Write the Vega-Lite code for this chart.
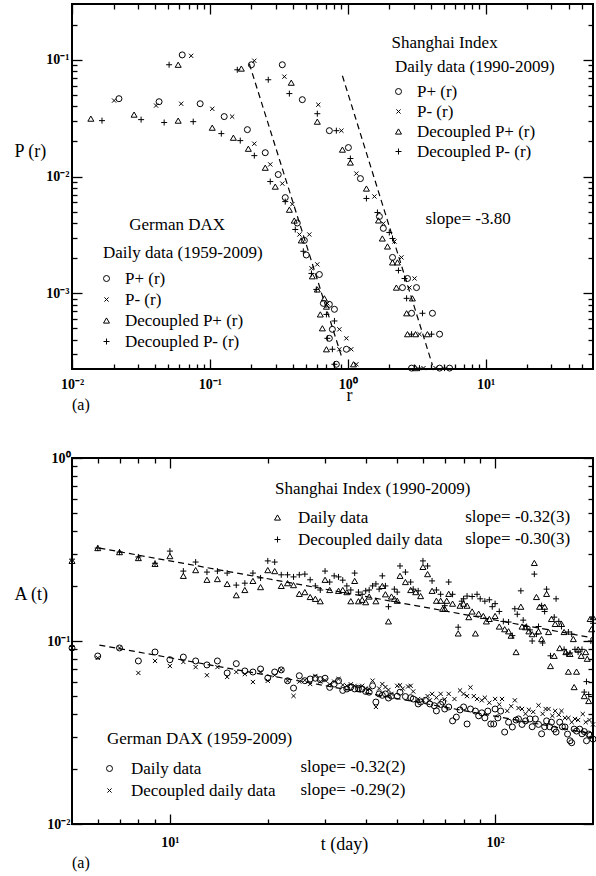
{
"$schema": "https://vega.github.io/schema/vega-lite/v6.json",
"padding": {"left": 13, "top": 2, "right": 0, "bottom": 0},
"background": "white",
"spacing": 36,
"datasets": {
"daxP": [
{"r":0.0219,"P":0.0464,"series":"P+ (r)"},{"r":0.0428,"P":0.0437,"series":"P+ (r)"},{"r":0.085,"P":0.042,"series":"P+ (r)"},{"r":0.127,"P":0.0326,"series":"P+ (r)"},{"r":0.187,"P":0.0252,"series":"P+ (r)"},{"r":0.252,"P":0.016,"series":"P+ (r)"},{"r":0.313,"P":0.0104,"series":"P+ (r)"},{"r":0.352,"P":0.0066,"series":"P+ (r)"},{"r":0.43,"P":0.004,"series":"P+ (r)"},{"r":0.484,"P":0.00284,"series":"P+ (r)"},{"r":0.5,"P":0.00213,"series":"P+ (r)"},{"r":0.622,"P":0.00145,"series":"P+ (r)"},{"r":0.665,"P":0.00082,"series":"P+ (r)"},{"r":0.735,"P":0.000805,"series":"P+ (r)"},{"r":0.8,"P":0.00073,"series":"P+ (r)"},{"r":0.773,"P":0.000492,"series":"P+ (r)"},{"r":0.735,"P":0.000412,"series":"P+ (r)"},{"r":0.977,"P":0.000332,"series":"P+ (r)"},{"r":0.826,"P":0.000247,"series":"P+ (r)"},
{"r":0.0202,"P":0.0447,"series":"P- (r)"},{"r":0.0407,"P":0.0405,"series":"P- (r)"},{"r":0.0619,"P":0.042,"series":"P- (r)"},{"r":0.104,"P":0.038,"series":"P- (r)"},{"r":0.145,"P":0.0326,"series":"P- (r)"},{"r":0.21,"P":0.0191,"series":"P- (r)"},{"r":0.274,"P":0.0127,"series":"P- (r)"},{"r":0.335,"P":0.0087,"series":"P- (r)"},{"r":0.396,"P":0.0058,"series":"P- (r)"},{"r":0.446,"P":0.00319,"series":"P- (r)"},{"r":0.526,"P":0.00319,"series":"P- (r)"},{"r":0.601,"P":0.00177,"series":"P- (r)"},{"r":0.545,"P":0.00164,"series":"P- (r)"},{"r":0.711,"P":0.00082,"series":"P- (r)"},{"r":0.869,"P":0.000492,"series":"P- (r)"},{"r":0.977,"P":0.000412,"series":"P- (r)"},{"r":0.869,"P":0.000332,"series":"P- (r)"},{"r":1.06,"P":0.000332,"series":"P- (r)"},{"r":1.154,"P":0.000247,"series":"P- (r)"},
{"r":0.0137,"P":0.0313,"series":"Decoupled P+ (r)"},{"r":0.0282,"P":0.0339,"series":"Decoupled P+ (r)"},{"r":0.0589,"P":0.0301,"series":"Decoupled P+ (r)"},{"r":0.104,"P":0.0262,"series":"Decoupled P+ (r)"},{"r":0.148,"P":0.0215,"series":"Decoupled P+ (r)"},{"r":0.19,"P":0.0173,"series":"Decoupled P+ (r)"},{"r":0.252,"P":0.0119,"series":"Decoupled P+ (r)"},{"r":0.298,"P":0.0082,"series":"Decoupled P+ (r)"},{"r":0.377,"P":0.0052,"series":"Decoupled P+ (r)"},{"r":0.409,"P":0.0042,"series":"Decoupled P+ (r)"},{"r":0.46,"P":0.00284,"series":"Decoupled P+ (r)"},{"r":0.553,"P":0.0014,"series":"Decoupled P+ (r)"},{"r":0.601,"P":0.00108,"series":"Decoupled P+ (r)"},{"r":0.676,"P":0.000906,"series":"Decoupled P+ (r)"},{"r":0.7,"P":0.00077,"series":"Decoupled P+ (r)"},{"r":0.632,"P":0.00066,"series":"Decoupled P+ (r)"},{"r":0.654,"P":0.000502,"series":"Decoupled P+ (r)"},{"r":0.7,"P":0.000332,"series":"Decoupled P+ (r)"},{"r":1.1,"P":0.000247,"series":"Decoupled P+ (r)"},
{"r":0.0165,"P":0.0301,"series":"Decoupled P- (r)"},{"r":0.0317,"P":0.0307,"series":"Decoupled P- (r)"},{"r":0.0466,"P":0.029,"series":"Decoupled P- (r)"},{"r":0.0757,"P":0.0295,"series":"Decoupled P- (r)"},{"r":0.121,"P":0.0233,"series":"Decoupled P- (r)"},{"r":0.166,"P":0.0203,"series":"Decoupled P- (r)"},{"r":0.21,"P":0.0151,"series":"Decoupled P- (r)"},{"r":0.274,"P":0.00906,"series":"Decoupled P- (r)"},{"r":0.352,"P":0.0061,"series":"Decoupled P- (r)"},{"r":0.416,"P":0.00352,"series":"Decoupled P- (r)"},{"r":0.476,"P":0.00229,"series":"Decoupled P- (r)"},{"r":0.545,"P":0.00148,"series":"Decoupled P- (r)"},{"r":0.591,"P":0.00108,"series":"Decoupled P- (r)"},{"r":0.7,"P":0.00066,"series":"Decoupled P- (r)"},{"r":0.8,"P":0.00058,"series":"Decoupled P- (r)"},{"r":0.711,"P":0.000412,"series":"Decoupled P- (r)"},{"r":0.773,"P":0.000332,"series":"Decoupled P- (r)"},{"r":0.8,"P":0.000247,"series":"Decoupled P- (r)"}
],
"shP": [
{"r":0.063,"P":0.11,"series":"P+ (r)"},{"r":0.2,"P":0.0906,"series":"P+ (r)"},{"r":0.335,"P":0.0906,"series":"P+ (r)"},{"r":0.468,"P":0.0455,"series":"P+ (r)"},{"r":0.735,"P":0.0247,"series":"P+ (r)"},{"r":1.01,"P":0.0177,"series":"P+ (r)"},{"r":1.235,"P":0.0096,"series":"P+ (r)"},{"r":1.695,"P":0.00455,"series":"P+ (r)"},{"r":1.81,"P":0.0036,"series":"P+ (r)"},{"r":2.11,"P":0.00203,"series":"P+ (r)"},{"r":2.71,"P":0.00134,"series":"P+ (r)"},{"r":2.49,"P":0.00112,"series":"P+ (r)"},{"r":3.15,"P":0.00112,"series":"P+ (r)"},{"r":2.9,"P":0.000675,"series":"P+ (r)"},{"r":4.11,"P":0.000675,"series":"P+ (r)"},{"r":4.63,"P":0.000447,"series":"P+ (r)"},{"r":2.9,"P":0.000229,"series":"P+ (r)"},{"r":4.63,"P":0.000229,"series":"P+ (r)"},{"r":5.47,"P":0.000229,"series":"P+ (r)"},
{"r":0.0731,"P":0.108,"series":"P- (r)"},{"r":0.21,"P":0.098,"series":"P- (r)"},{"r":0.347,"P":0.0716,"series":"P- (r)"},{"r":0.611,"P":0.0412,"series":"P- (r)"},{"r":0.899,"P":0.0247,"series":"P- (r)"},{"r":1.154,"P":0.01061,"series":"P- (r)"},{"r":1.56,"P":0.00675,"series":"P- (r)"},{"r":1.81,"P":0.00396,"series":"P- (r)"},{"r":2.18,"P":0.00278,"series":"P- (r)"},{"r":2.45,"P":0.00203,"series":"P- (r)"},{"r":3.05,"P":0.00134,"series":"P- (r)"},{"r":2.8,"P":0.00112,"series":"P- (r)"},{"r":3.31,"P":0.000447,"series":"P- (r)"},{"r":3.54,"P":0.000229,"series":"P- (r)"},{"r":4.33,"P":0.000229,"series":"P- (r)"},
{"r":0.0589,"P":0.0906,"series":"Decoupled P+ (r)"},{"r":0.169,"P":0.084,"series":"Decoupled P+ (r)"},{"r":0.389,"P":0.0636,"series":"Decoupled P+ (r)"},{"r":0.601,"P":0.0295,"series":"Decoupled P+ (r)"},{"r":0.914,"P":0.017,"series":"Decoupled P+ (r)"},{"r":1.044,"P":0.01318,"series":"Decoupled P+ (r)"},{"r":1.365,"P":0.00789,"series":"Decoupled P+ (r)"},{"r":1.67,"P":0.00421,"series":"Decoupled P+ (r)"},{"r":1.78,"P":0.00295,"series":"Decoupled P+ (r)"},{"r":1.94,"P":0.00252,"series":"Decoupled P+ (r)"},{"r":2.11,"P":0.00184,"series":"Decoupled P+ (r)"},{"r":2.29,"P":0.00184,"series":"Decoupled P+ (r)"},{"r":2.25,"P":0.00112,"series":"Decoupled P+ (r)"},{"r":2.94,"P":0.000906,"series":"Decoupled P+ (r)"},{"r":2.67,"P":0.000675,"series":"Decoupled P+ (r)"},{"r":2.71,"P":0.000447,"series":"Decoupled P+ (r)"},{"r":3.1,"P":0.000447,"series":"Decoupled P+ (r)"},{"r":3.78,"P":0.000447,"series":"Decoupled P+ (r)"},{"r":3.1,"P":0.000229,"series":"Decoupled P+ (r)"},
{"r":0.0506,"P":0.0906,"series":"Decoupled P- (r)"},{"r":0.158,"P":0.082,"series":"Decoupled P- (r)"},{"r":0.265,"P":0.0674,"series":"Decoupled P- (r)"},{"r":0.377,"P":0.0513,"series":"Decoupled P- (r)"},{"r":0.601,"P":0.0345,"series":"Decoupled P- (r)"},{"r":0.826,"P":0.0247,"series":"Decoupled P- (r)"},{"r":1.044,"P":0.01426,"series":"Decoupled P- (r)"},{"r":1.365,"P":0.00649,"series":"Decoupled P- (r)"},{"r":1.64,"P":0.00492,"series":"Decoupled P- (r)"},{"r":2.0,"P":0.00332,"series":"Decoupled P- (r)"},{"r":2.11,"P":0.00295,"series":"Decoupled P- (r)"},{"r":2.33,"P":0.00157,"series":"Decoupled P- (r)"},{"r":2.58,"P":0.00134,"series":"Decoupled P- (r)"},{"r":2.67,"P":0.000906,"series":"Decoupled P- (r)"},{"r":3.48,"P":0.000675,"series":"Decoupled P- (r)"},{"r":2.9,"P":0.000447,"series":"Decoupled P- (r)"},{"r":4.05,"P":0.000447,"series":"Decoupled P- (r)"},{"r":3.31,"P":0.000229,"series":"Decoupled P- (r)"},{"r":5.03,"P":0.000229,"series":"Decoupled P- (r)"}
],
"fitP": [
{"r":0.193,"P":0.0925,"fit":"DAX"},{"r":0.899,"P":0.00029,"fit":"DAX"},
{"r":0.914,"P":0.0729,"fit":"SH"},{"r":4.11,"P":0.000243,"fit":"SH"}
],
"shA": [
{"t":5,"A":0.274,"series":"Daily data"},{"t":6,"A":0.322,"series":"Daily data"},{"t":7,"A":0.306,"series":"Daily data"},{"t":8,"A":0.284,"series":"Daily data"},{"t":9,"A":0.264,"series":"Daily data"},{"t":10,"A":0.291,"series":"Daily data"},{"t":11,"A":0.227,"series":"Daily data"},{"t":12,"A":0.244,"series":"Daily data"},{"t":13,"A":0.216,"series":"Daily data"},{"t":14,"A":0.218,"series":"Daily data"},{"t":15,"A":0.205,"series":"Daily data"},{"t":16,"A":0.178,"series":"Daily data"},{"t":17,"A":0.19,"series":"Daily data"},{"t":18,"A":0.213,"series":"Daily data"},{"t":19,"A":0.197,"series":"Daily data"},{"t":20,"A":0.244,"series":"Daily data"},{"t":21,"A":0.241,"series":"Daily data"},{"t":22,"A":0.2,"series":"Daily data"},{"t":23,"A":0.207,"series":"Daily data"},{"t":24,"A":0.202,"series":"Daily data"},{"t":25,"A":0.181,"series":"Daily data"},{"t":26,"A":0.185,"series":"Daily data"},{"t":27,"A":0.174,"series":"Daily data"},{"t":28,"A":0.17,"series":"Daily data"},{"t":29,"A":0.165,"series":"Daily data"},{"t":30,"A":0.216,"series":"Daily data"},{"t":31,"A":0.19,"series":"Daily data"},{"t":33,"A":0.188,"series":"Daily data"},{"t":34,"A":0.19,"series":"Daily data"},{"t":35,"A":0.185,"series":"Daily data"},{"t":36,"A":0.165,"series":"Daily data"},{"t":37,"A":0.213,"series":"Daily data"},{"t":38,"A":0.165,"series":"Daily data"},{"t":39,"A":0.168,"series":"Daily data"},{"t":40,"A":0.163,"series":"Daily data"},{"t":41,"A":0.175,"series":"Daily data"},{"t":43,"A":0.165,"series":"Daily data"},{"t":45,"A":0.2,"series":"Daily data"},{"t":46,"A":0.18,"series":"Daily data"},{"t":47,"A":0.128,"series":"Daily data"},{"t":48,"A":0.175,"series":"Daily data"},{"t":49,"A":0.17,"series":"Daily data"},{"t":50,"A":0.166,"series":"Daily data"},{"t":51,"A":0.227,"series":"Daily data"},{"t":53,"A":0.21,"series":"Daily data"},{"t":55,"A":0.19,"series":"Daily data"},{"t":57,"A":0.185,"series":"Daily data"},{"t":59,"A":0.176,"series":"Daily data"},{"t":60,"A":0.254,"series":"Daily data"},{"t":62,"A":0.232,"series":"Daily data"},{"t":64,"A":0.188,"series":"Daily data"},{"t":66,"A":0.166,"series":"Daily data"},{"t":68,"A":0.166,"series":"Daily data"},{"t":69,"A":0.15,"series":"Daily data"},{"t":70,"A":0.15,"series":"Daily data"},{"t":71,"A":0.166,"series":"Daily data"},{"t":72,"A":0.181,"series":"Daily data"},{"t":74,"A":0.16,"series":"Daily data"},{"t":77,"A":0.11,"series":"Daily data"},{"t":78,"A":0.156,"series":"Daily data"},{"t":80,"A":0.16,"series":"Daily data"},{"t":82,"A":0.156,"series":"Daily data"},{"t":83,"A":0.135,"series":"Daily data"},{"t":85,"A":0.145,"series":"Daily data"},{"t":87,"A":0.11,"series":"Daily data"},{"t":89,"A":0.141,"series":"Daily data"},{"t":92,"A":0.137,"series":"Daily data"},{"t":94,"A":0.128,"series":"Daily data"},{"t":96,"A":0.132,"series":"Daily data"},{"t":100,"A":0.137,"series":"Daily data"},{"t":103,"A":0.12,"series":"Daily data"},{"t":107,"A":0.116,"series":"Daily data"},{"t":110,"A":0.113,"series":"Daily data"},{"t":112,"A":0.107,"series":"Daily data"},{"t":116,"A":0.087,"series":"Daily data"},{"t":120,"A":0.154,"series":"Daily data"},{"t":121,"A":0.12,"series":"Daily data"},{"t":124,"A":0.119,"series":"Daily data"},{"t":127,"A":0.113,"series":"Daily data"},{"t":130,"A":0.109,"series":"Daily data"},{"t":132,"A":0.267,"series":"Daily data"},{"t":134,"A":0.174,"series":"Daily data"},{"t":136,"A":0.113,"series":"Daily data"},{"t":137,"A":0.154,"series":"Daily data"},{"t":139,"A":0.1025,"series":"Daily data"},{"t":142,"A":0.154,"series":"Daily data"},{"t":144,"A":0.181,"series":"Daily data"},{"t":146,"A":0.112,"series":"Daily data"},{"t":148,"A":0.073,"series":"Daily data"},{"t":149,"A":0.132,"series":"Daily data"},{"t":152,"A":0.083,"series":"Daily data"},{"t":153,"A":0.124,"series":"Daily data"},{"t":158,"A":0.0915,"series":"Daily data"},{"t":160,"A":0.124,"series":"Daily data"},{"t":163,"A":0.112,"series":"Daily data"},{"t":165,"A":0.087,"series":"Daily data"},{"t":168,"A":0.068,"series":"Daily data"},{"t":170,"A":0.085,"series":"Daily data"},{"t":174,"A":0.1025,"series":"Daily data"},{"t":175,"A":0.056,"series":"Daily data"},{"t":178,"A":0.068,"series":"Daily data"},{"t":180,"A":0.09,"series":"Daily data"},{"t":184,"A":0.083,"series":"Daily data"},{"t":188,"A":0.05,"series":"Daily data"},{"t":190,"A":0.087,"series":"Daily data"},{"t":192,"A":0.08,"series":"Daily data"},{"t":194,"A":0.047,"series":"Daily data"},{"t":196,"A":0.132,"series":"Daily data"},{"t":198,"A":0.116,"series":"Daily data"},{"t":200,"A":0.135,"series":"Daily data"},
{"t":5,"A":0.28,"series":"Decoupled daily data"},{"t":6,"A":0.322,"series":"Decoupled daily data"},{"t":7,"A":0.306,"series":"Decoupled daily data"},{"t":8,"A":0.288,"series":"Decoupled daily data"},{"t":9,"A":0.266,"series":"Decoupled daily data"},{"t":10,"A":0.31,"series":"Decoupled daily data"},{"t":11,"A":0.241,"series":"Decoupled daily data"},{"t":12,"A":0.27,"series":"Decoupled daily data"},{"t":13,"A":0.238,"series":"Decoupled daily data"},{"t":14,"A":0.241,"series":"Decoupled daily data"},{"t":15,"A":0.235,"series":"Decoupled daily data"},{"t":16,"A":0.202,"series":"Decoupled daily data"},{"t":17,"A":0.207,"series":"Decoupled daily data"},{"t":18,"A":0.235,"series":"Decoupled daily data"},{"t":19,"A":0.221,"series":"Decoupled daily data"},{"t":20,"A":0.274,"series":"Decoupled daily data"},{"t":21,"A":0.27,"series":"Decoupled daily data"},{"t":22,"A":0.23,"series":"Decoupled daily data"},{"t":23,"A":0.23,"series":"Decoupled daily data"},{"t":24,"A":0.224,"series":"Decoupled daily data"},{"t":25,"A":0.23,"series":"Decoupled daily data"},{"t":26,"A":0.232,"series":"Decoupled daily data"},{"t":27,"A":0.216,"series":"Decoupled daily data"},{"t":28,"A":0.2,"series":"Decoupled daily data"},{"t":29,"A":0.19,"series":"Decoupled daily data"},{"t":30,"A":0.241,"series":"Decoupled daily data"},{"t":31,"A":0.21,"series":"Decoupled daily data"},{"t":32,"A":0.227,"series":"Decoupled daily data"},{"t":33,"A":0.224,"series":"Decoupled daily data"},{"t":34,"A":0.215,"series":"Decoupled daily data"},{"t":35,"A":0.2,"series":"Decoupled daily data"},{"t":36,"A":0.19,"series":"Decoupled daily data"},{"t":37,"A":0.235,"series":"Decoupled daily data"},{"t":38,"A":0.185,"series":"Decoupled daily data"},{"t":39,"A":0.18,"series":"Decoupled daily data"},{"t":40,"A":0.188,"series":"Decoupled daily data"},{"t":41,"A":0.19,"series":"Decoupled daily data"},{"t":42,"A":0.2,"series":"Decoupled daily data"},{"t":43,"A":0.205,"series":"Decoupled daily data"},{"t":44,"A":0.192,"series":"Decoupled daily data"},{"t":45,"A":0.227,"series":"Decoupled daily data"},{"t":46,"A":0.2,"series":"Decoupled daily data"},{"t":47,"A":0.154,"series":"Decoupled daily data"},{"t":49,"A":0.192,"series":"Decoupled daily data"},{"t":50,"A":0.185,"series":"Decoupled daily data"},{"t":51,"A":0.257,"series":"Decoupled daily data"},{"t":53,"A":0.238,"series":"Decoupled daily data"},{"t":55,"A":0.21,"series":"Decoupled daily data"},{"t":56,"A":0.192,"series":"Decoupled daily data"},{"t":58,"A":0.188,"series":"Decoupled daily data"},{"t":60,"A":0.274,"series":"Decoupled daily data"},{"t":62,"A":0.257,"series":"Decoupled daily data"},{"t":64,"A":0.213,"series":"Decoupled daily data"},{"t":66,"A":0.19,"series":"Decoupled daily data"},{"t":68,"A":0.18,"series":"Decoupled daily data"},{"t":70,"A":0.156,"series":"Decoupled daily data"},{"t":72,"A":0.21,"series":"Decoupled daily data"},{"t":74,"A":0.18,"series":"Decoupled daily data"},{"t":77,"A":0.119,"series":"Decoupled daily data"},{"t":79,"A":0.165,"series":"Decoupled daily data"},{"t":80,"A":0.17,"series":"Decoupled daily data"},{"t":82,"A":0.176,"series":"Decoupled daily data"},{"t":85,"A":0.175,"series":"Decoupled daily data"},{"t":88,"A":0.18,"series":"Decoupled daily data"},{"t":90,"A":0.17,"series":"Decoupled daily data"},{"t":93,"A":0.165,"series":"Decoupled daily data"},{"t":96,"A":0.168,"series":"Decoupled daily data"},{"t":98,"A":0.154,"series":"Decoupled daily data"},{"t":100,"A":0.16,"series":"Decoupled daily data"},{"t":103,"A":0.145,"series":"Decoupled daily data"},{"t":106,"A":0.128,"series":"Decoupled daily data"},{"t":110,"A":0.127,"series":"Decoupled daily data"},{"t":113,"A":0.107,"series":"Decoupled daily data"},{"t":115,"A":0.15,"series":"Decoupled daily data"},{"t":117,"A":0.14,"series":"Decoupled daily data"},{"t":120,"A":0.188,"series":"Decoupled daily data"},{"t":122,"A":0.13,"series":"Decoupled daily data"},{"t":125,"A":0.12,"series":"Decoupled daily data"},{"t":128,"A":0.115,"series":"Decoupled daily data"},{"t":130,"A":0.1,"series":"Decoupled daily data"},{"t":132,"A":0.232,"series":"Decoupled daily data"},{"t":134,"A":0.109,"series":"Decoupled daily data"},{"t":136,"A":0.12,"series":"Decoupled daily data"},{"t":139,"A":0.156,"series":"Decoupled daily data"},{"t":140,"A":0.0975,"series":"Decoupled daily data"},{"t":142,"A":0.145,"series":"Decoupled daily data"},{"t":144,"A":0.192,"series":"Decoupled daily data"},{"t":148,"A":0.083,"series":"Decoupled daily data"},{"t":152,"A":0.135,"series":"Decoupled daily data"},{"t":154,"A":0.17,"series":"Decoupled daily data"},{"t":157,"A":0.128,"series":"Decoupled daily data"},{"t":160,"A":0.12,"series":"Decoupled daily data"},{"t":163,"A":0.09,"series":"Decoupled daily data"},{"t":166,"A":0.085,"series":"Decoupled daily data"},{"t":168,"A":0.112,"series":"Decoupled daily data"},{"t":170,"A":0.086,"series":"Decoupled daily data"},{"t":172,"A":0.109,"series":"Decoupled daily data"},{"t":176,"A":0.09,"series":"Decoupled daily data"},{"t":180,"A":0.087,"series":"Decoupled daily data"},{"t":185,"A":0.09,"series":"Decoupled daily data"},{"t":188,"A":0.0526,"series":"Decoupled daily data"},{"t":191,"A":0.06,"series":"Decoupled daily data"},{"t":194,"A":0.051,"series":"Decoupled daily data"},{"t":197,"A":0.1,"series":"Decoupled daily data"},{"t":200,"A":0.125,"series":"Decoupled daily data"}
],
"daxA": [
{"t":5,"A":0.0916,"series":"Daily data"},{"t":6,"A":0.0828,"series":"Daily data"},{"t":7,"A":0.0916,"series":"Daily data"},{"t":8,"A":0.0778,"series":"Daily data"},{"t":9,"A":0.0871,"series":"Daily data"},{"t":10,"A":0.079,"series":"Daily data"},{"t":11,"A":0.0817,"series":"Daily data"},{"t":12,"A":0.0778,"series":"Daily data"},{"t":13,"A":0.074,"series":"Daily data"},{"t":14,"A":0.0778,"series":"Daily data"},{"t":15,"A":0.0669,"series":"Daily data"},{"t":16,"A":0.0752,"series":"Daily data"},{"t":17,"A":0.0686,"series":"Daily data"},{"t":18,"A":0.0677,"series":"Daily data"},{"t":19,"A":0.0703,"series":"Daily data"},{"t":20,"A":0.0628,"series":"Daily data"},{"t":21,"A":0.0677,"series":"Daily data"},{"t":22,"A":0.0695,"series":"Daily data"},{"t":23,"A":0.0606,"series":"Daily data"},{"t":24,"A":0.0553,"series":"Daily data"},{"t":25,"A":0.0646,"series":"Daily data"},{"t":26,"A":0.0607,"series":"Daily data"},{"t":27,"A":0.062,"series":"Daily data"},{"t":28,"A":0.0626,"series":"Daily data"},{"t":29,"A":0.0615,"series":"Daily data"},{"t":30,"A":0.0626,"series":"Daily data"},{"t":31,"A":0.0558,"series":"Daily data"},{"t":32,"A":0.0582,"series":"Daily data"},{"t":33,"A":0.0607,"series":"Daily data"},{"t":34,"A":0.0537,"series":"Daily data"},{"t":35,"A":0.0547,"series":"Daily data"},{"t":36,"A":0.056,"series":"Daily data"},{"t":37,"A":0.0547,"series":"Daily data"},{"t":38,"A":0.0551,"series":"Daily data"},{"t":39,"A":0.0547,"series":"Daily data"},{"t":40,"A":0.053,"series":"Daily data"},{"t":41,"A":0.0525,"series":"Daily data"},{"t":42,"A":0.0569,"series":"Daily data"},{"t":43,"A":0.0464,"series":"Daily data"},{"t":44,"A":0.0514,"series":"Daily data"},{"t":45,"A":0.0505,"series":"Daily data"},{"t":46,"A":0.0514,"series":"Daily data"},{"t":47,"A":0.0488,"series":"Daily data"},{"t":48,"A":0.05,"series":"Daily data"},{"t":50,"A":0.0499,"series":"Daily data"},{"t":51,"A":0.0525,"series":"Daily data"},{"t":53,"A":0.0497,"series":"Daily data"},{"t":55,"A":0.049,"series":"Daily data"},{"t":56,"A":0.0482,"series":"Daily data"},{"t":58,"A":0.0453,"series":"Daily data"},{"t":59,"A":0.0464,"series":"Daily data"},{"t":61,"A":0.0474,"series":"Daily data"},{"t":63,"A":0.0453,"series":"Daily data"},{"t":65,"A":0.0443,"series":"Daily data"},{"t":66,"A":0.0415,"series":"Daily data"},{"t":68,"A":0.045,"series":"Daily data"},{"t":69,"A":0.0464,"series":"Daily data"},{"t":70,"A":0.0425,"series":"Daily data"},{"t":72,"A":0.0436,"series":"Daily data"},{"t":74,"A":0.0366,"series":"Daily data"},{"t":76,"A":0.0384,"series":"Daily data"},{"t":78,"A":0.042,"series":"Daily data"},{"t":80,"A":0.0436,"series":"Daily data"},{"t":82,"A":0.0352,"series":"Daily data"},{"t":84,"A":0.0425,"series":"Daily data"},{"t":87,"A":0.0414,"series":"Daily data"},{"t":89,"A":0.039,"series":"Daily data"},{"t":91,"A":0.0405,"series":"Daily data"},{"t":93,"A":0.038,"series":"Daily data"},{"t":95,"A":0.0414,"series":"Daily data"},{"t":97,"A":0.0352,"series":"Daily data"},{"t":99,"A":0.0352,"series":"Daily data"},{"t":100,"A":0.0425,"series":"Daily data"},{"t":102,"A":0.038,"series":"Daily data"},{"t":104,"A":0.0414,"series":"Daily data"},{"t":107,"A":0.0318,"series":"Daily data"},{"t":110,"A":0.036,"series":"Daily data"},{"t":113,"A":0.0339,"series":"Daily data"},{"t":116,"A":0.037,"series":"Daily data"},{"t":118,"A":0.0375,"series":"Daily data"},{"t":121,"A":0.035,"series":"Daily data"},{"t":124,"A":0.0366,"series":"Daily data"},{"t":128,"A":0.0375,"series":"Daily data"},{"t":130,"A":0.034,"series":"Daily data"},{"t":133,"A":0.0375,"series":"Daily data"},{"t":136,"A":0.035,"series":"Daily data"},{"t":139,"A":0.0311,"series":"Daily data"},{"t":142,"A":0.034,"series":"Daily data"},{"t":144,"A":0.0366,"series":"Daily data"},{"t":147,"A":0.034,"series":"Daily data"},{"t":149,"A":0.036,"series":"Daily data"},{"t":152,"A":0.033,"series":"Daily data"},{"t":154,"A":0.0318,"series":"Daily data"},{"t":158,"A":0.036,"series":"Daily data"},{"t":161,"A":0.034,"series":"Daily data"},{"t":164,"A":0.0339,"series":"Daily data"},{"t":167,"A":0.031,"series":"Daily data"},{"t":170,"A":0.0285,"series":"Daily data"},{"t":172,"A":0.0278,"series":"Daily data"},{"t":175,"A":0.033,"series":"Daily data"},{"t":178,"A":0.0322,"series":"Daily data"},{"t":182,"A":0.033,"series":"Daily data"},{"t":185,"A":0.0311,"series":"Daily data"},{"t":188,"A":0.032,"series":"Daily data"},{"t":191,"A":0.0285,"series":"Daily data"},{"t":194,"A":0.031,"series":"Daily data"},{"t":196,"A":0.0305,"series":"Daily data"},{"t":200,"A":0.0291,"series":"Daily data"},
{"t":5,"A":0.0916,"series":"Decoupled daily data"},{"t":6,"A":0.0808,"series":"Decoupled daily data"},{"t":7,"A":0.0916,"series":"Decoupled daily data"},{"t":8,"A":0.0669,"series":"Decoupled daily data"},{"t":9,"A":0.0778,"series":"Decoupled daily data"},{"t":10,"A":0.073,"series":"Decoupled daily data"},{"t":11,"A":0.0768,"series":"Decoupled daily data"},{"t":12,"A":0.072,"series":"Decoupled daily data"},{"t":13,"A":0.065,"series":"Decoupled daily data"},{"t":14,"A":0.072,"series":"Decoupled daily data"},{"t":15,"A":0.0636,"series":"Decoupled daily data"},{"t":16,"A":0.0677,"series":"Decoupled daily data"},{"t":17,"A":0.066,"series":"Decoupled daily data"},{"t":18,"A":0.0597,"series":"Decoupled daily data"},{"t":19,"A":0.0677,"series":"Decoupled daily data"},{"t":20,"A":0.0606,"series":"Decoupled daily data"},{"t":21,"A":0.065,"series":"Decoupled daily data"},{"t":22,"A":0.0695,"series":"Decoupled daily data"},{"t":23,"A":0.0606,"series":"Decoupled daily data"},{"t":24,"A":0.0501,"series":"Decoupled daily data"},{"t":25,"A":0.06,"series":"Decoupled daily data"},{"t":26,"A":0.061,"series":"Decoupled daily data"},{"t":27,"A":0.0582,"series":"Decoupled daily data"},{"t":28,"A":0.0644,"series":"Decoupled daily data"},{"t":29,"A":0.06,"series":"Decoupled daily data"},{"t":30,"A":0.061,"series":"Decoupled daily data"},{"t":31,"A":0.058,"series":"Decoupled daily data"},{"t":32,"A":0.06,"series":"Decoupled daily data"},{"t":33,"A":0.062,"series":"Decoupled daily data"},{"t":34,"A":0.0575,"series":"Decoupled daily data"},{"t":35,"A":0.0569,"series":"Decoupled daily data"},{"t":36,"A":0.058,"series":"Decoupled daily data"},{"t":37,"A":0.0569,"series":"Decoupled daily data"},{"t":38,"A":0.056,"series":"Decoupled daily data"},{"t":39,"A":0.0569,"series":"Decoupled daily data"},{"t":40,"A":0.055,"series":"Decoupled daily data"},{"t":41,"A":0.0547,"series":"Decoupled daily data"},{"t":42,"A":0.0607,"series":"Decoupled daily data"},{"t":43,"A":0.0436,"series":"Decoupled daily data"},{"t":44,"A":0.055,"series":"Decoupled daily data"},{"t":45,"A":0.0582,"series":"Decoupled daily data"},{"t":46,"A":0.056,"series":"Decoupled daily data"},{"t":47,"A":0.054,"series":"Decoupled daily data"},{"t":48,"A":0.0514,"series":"Decoupled daily data"},{"t":50,"A":0.0569,"series":"Decoupled daily data"},{"t":51,"A":0.0573,"series":"Decoupled daily data"},{"t":52,"A":0.055,"series":"Decoupled daily data"},{"t":54,"A":0.0564,"series":"Decoupled daily data"},{"t":55,"A":0.0569,"series":"Decoupled daily data"},{"t":56,"A":0.053,"series":"Decoupled daily data"},{"t":58,"A":0.0482,"series":"Decoupled daily data"},{"t":60,"A":0.0474,"series":"Decoupled daily data"},{"t":62,"A":0.05,"series":"Decoupled daily data"},{"t":63,"A":0.0474,"series":"Decoupled daily data"},{"t":64,"A":0.0514,"series":"Decoupled daily data"},{"t":66,"A":0.049,"series":"Decoupled daily data"},{"t":68,"A":0.0514,"series":"Decoupled daily data"},{"t":70,"A":0.048,"series":"Decoupled daily data"},{"t":72,"A":0.0514,"series":"Decoupled daily data"},{"t":75,"A":0.0482,"series":"Decoupled daily data"},{"t":78,"A":0.0537,"series":"Decoupled daily data"},{"t":80,"A":0.0514,"series":"Decoupled daily data"},{"t":82,"A":0.05,"series":"Decoupled daily data"},{"t":84,"A":0.0558,"series":"Decoupled daily data"},{"t":86,"A":0.05,"series":"Decoupled daily data"},{"t":88,"A":0.0482,"series":"Decoupled daily data"},{"t":91,"A":0.0474,"series":"Decoupled daily data"},{"t":93,"A":0.049,"series":"Decoupled daily data"},{"t":96,"A":0.046,"series":"Decoupled daily data"},{"t":100,"A":0.0482,"series":"Decoupled daily data"},{"t":103,"A":0.045,"series":"Decoupled daily data"},{"t":105,"A":0.0482,"series":"Decoupled daily data"},{"t":109,"A":0.0415,"series":"Decoupled daily data"},{"t":112,"A":0.044,"series":"Decoupled daily data"},{"t":115,"A":0.0474,"series":"Decoupled daily data"},{"t":118,"A":0.043,"series":"Decoupled daily data"},{"t":121,"A":0.0425,"series":"Decoupled daily data"},{"t":124,"A":0.04,"series":"Decoupled daily data"},{"t":127,"A":0.0421,"series":"Decoupled daily data"},{"t":131,"A":0.041,"series":"Decoupled daily data"},{"t":136,"A":0.0445,"series":"Decoupled daily data"},{"t":140,"A":0.04,"series":"Decoupled daily data"},{"t":143,"A":0.0425,"series":"Decoupled daily data"},{"t":146,"A":0.0425,"series":"Decoupled daily data"},{"t":150,"A":0.039,"series":"Decoupled daily data"},{"t":153,"A":0.0415,"series":"Decoupled daily data"},{"t":157,"A":0.0395,"series":"Decoupled daily data"},{"t":160,"A":0.0415,"series":"Decoupled daily data"},{"t":164,"A":0.038,"series":"Decoupled daily data"},{"t":168,"A":0.038,"series":"Decoupled daily data"},{"t":172,"A":0.036,"series":"Decoupled daily data"},{"t":176,"A":0.0375,"series":"Decoupled daily data"},{"t":180,"A":0.037,"series":"Decoupled daily data"},{"t":186,"A":0.0399,"series":"Decoupled daily data"},{"t":190,"A":0.036,"series":"Decoupled daily data"},{"t":195,"A":0.037,"series":"Decoupled daily data"},{"t":200,"A":0.035,"series":"Decoupled daily data"}
],
"fitA": [
{"t":6.07,"A":0.322,"fit":"SH"},{"t":200,"A":0.104,"fit":"SH"},
{"t":6.07,"A":0.095,"fit":"DAX"},{"t":200,"A":0.0311,"fit":"DAX"}
]
},
"vconcat": [
{
"width": 521, "height": 365,
"title": {"text": "(a)", "orient": "bottom", "anchor": "start", "frame": "group", "offset": -7, "fontSize": 16, "fontWeight": "normal", "font": "Liberation Serif", "color": "black"},
"layer": [
{
"data": {"name": "daxP"},
"mark": {"type": "point", "filled": false, "color": "black", "size": 36, "strokeWidth": 1, "opacity": 1},
"encoding": {
"x": {"field": "r", "type": "quantitative", "scale": {"type": "log", "domain": [0.01, 60], "nice": false},
 "axis": {"orient": "bottom", "values": [0.01, 0.1, 1, 10], "labelExpr": "datum.value == 0.01 ? '10⁻²' : datum.value == 0.1 ? '10⁻¹' : datum.value == 1 ? '10⁰' : '10¹'", "tickSize": -10, "labelPadding": 18, "title": "r", "titleX": 277, "titleY": 31, "titleBaseline": "alphabetic", "titleAlign": "center"}},
"y": {"field": "P", "type": "quantitative", "scale": {"type": "log", "domain": [0.000225, 0.3], "nice": false},
 "axis": {"orient": "left", "values": [0.001, 0.01, 0.1], "labelExpr": "datum.value == 0.001 ? '10⁻³' : datum.value == 0.01 ? '10⁻²' : '10⁻¹'", "tickSize": -10, "labelPadding": 13, "title": "P (r)", "titleAngle": 0, "titleX": -58, "titleY": 147, "titleAlign": "left", "titleBaseline": "middle"}},
"shape": {"field": "series", "type": "nominal",
 "scale": {"domain": ["P+ (r)", "P- (r)", "Decoupled P+ (r)", "Decoupled P- (r)"], "range": ["circle", "M-0.7,-0.7L0.7,0.7M-0.7,0.7L0.7,-0.7", "triangle-up", "M-1,0L1,0M0,-1L0,1"]},
 "legend": {"orient": "none", "legendX": 31, "legendY": 241, "title": "Daily data (1959-2009)", "rowPadding": 3, "titlePadding": 8}}
}
},
{
"data": {"name": "shP"},
"mark": {"type": "point", "filled": false, "color": "black", "size": 36, "strokeWidth": 1, "opacity": 1},
"encoding": {
"x": {"field": "r", "type": "quantitative", "scale": {"type": "log", "domain": [0.01, 60], "nice": false},
 "axis": {"orient": "bottom", "values": [0.02,0.03,0.04,0.05,0.06,0.07,0.08,0.09,0.2,0.3,0.4,0.5,0.6,0.7,0.8,0.9,2,3,4,5,6,7,8,9,20,30,40,50], "labels": false, "tickSize": -5, "title": null}},
"y": {"field": "P", "type": "quantitative", "scale": {"type": "log", "domain": [0.000225, 0.3], "nice": false},
 "axis": {"orient": "left", "values": [0.0003,0.0004,0.0005,0.0006,0.0007,0.0008,0.0009,0.002,0.003,0.004,0.005,0.006,0.007,0.008,0.009,0.02,0.03,0.04,0.05,0.06,0.07,0.08,0.09,0.2], "labels": false, "tickSize": -5, "title": null}},
"shape": {"field": "series", "type": "nominal",
 "scale": {"domain": ["P+ (r)", "P- (r)", "Decoupled P+ (r)", "Decoupled P- (r)"], "range": ["circle", "M-0.7,-0.7L0.7,0.7M-0.7,0.7L0.7,-0.7", "triangle-up", "M-1,0L1,0M0,-1L0,1"]},
 "legend": {"orient": "none", "legendX": 323, "legendY": 55, "title": "Daily data (1990-2009)"}}
}
},
{
"data": {"name": "fitP"},
"mark": {"type": "line", "color": "black", "strokeWidth": 1.2, "strokeDash": [6, 4]},
"encoding": {
"x": {"field": "r", "type": "quantitative", "scale": {"type": "log", "domain": [0.01, 60], "nice": false},
 "axis": {"orient": "top", "values": [0.01, 0.1, 1, 10], "labels": false, "tickSize": -10, "title": null}},
"y": {"field": "P", "type": "quantitative", "scale": {"type": "log", "domain": [0.000225, 0.3], "nice": false},
 "axis": {"orient": "right", "values": [0.001, 0.01, 0.1], "labels": false, "tickSize": -10, "title": null}},
"detail": {"field": "fit", "type": "nominal"}
}
},
{
"data": {"values": [{}]},
"mark": {"type": "text", "text": "German DAX", "align": "center", "baseline": "middle", "font": "Liberation Serif", "fontSize": 17, "color": "black"},
"encoding": {
"x": {"datum": 0.0579, "type": "quantitative", "scale": {"type": "log", "domain": [0.01, 60], "nice": false},
 "axis": {"orient": "top", "values": [0.02,0.03,0.04,0.05,0.06,0.07,0.08,0.09,0.2,0.3,0.4,0.5,0.6,0.7,0.8,0.9,2,3,4,5,6,7,8,9,20,30,40,50], "labels": false, "tickSize": -5, "title": null}},
"y": {"datum": 0.00381, "type": "quantitative", "scale": {"type": "log", "domain": [0.000225, 0.3], "nice": false},
 "axis": {"orient": "right", "values": [0.0003,0.0004,0.0005,0.0006,0.0007,0.0008,0.0009,0.002,0.003,0.004,0.005,0.006,0.007,0.008,0.009,0.02,0.03,0.04,0.05,0.06,0.07,0.08,0.09,0.2], "labels": false, "tickSize": -5, "title": null}}
}
},
{
"data": {"values": [{}]},
"mark": {"type": "text", "text": "Shanghai Index", "align": "center", "baseline": "middle", "font": "Liberation Serif", "fontSize": 17, "color": "black"},
"encoding": {
"x": {"datum": 5.03, "type": "quantitative", "scale": {"type": "log", "domain": [0.01, 60], "nice": false}, "axis": null},
"y": {"datum": 0.14, "type": "quantitative", "scale": {"type": "log", "domain": [0.000225, 0.3], "nice": false}, "axis": null}
}
},
{
"data": {"values": [{}]},
"mark": {"type": "text", "text": "slope= -3.80", "align": "left", "baseline": "middle", "font": "Liberation Serif", "fontSize": 17, "color": "black"},
"encoding": {
"x": {"datum": 3.66, "type": "quantitative", "scale": {"type": "log", "domain": [0.01, 60], "nice": false}, "axis": null},
"y": {"datum": 0.00437, "type": "quantitative", "scale": {"type": "log", "domain": [0.000225, 0.3], "nice": false}, "axis": null}
}
}
],
"resolve": {"axis": {"x": "independent", "y": "independent"}, "scale": {"shape": "independent"}}
},
{
"width": 521, "height": 366,
"title": {"text": "(a)", "orient": "bottom", "anchor": "start", "frame": "group", "offset": 2, "fontSize": 16, "fontWeight": "normal", "font": "Liberation Serif", "color": "black"},
"layer": [
{
"data": {"name": "shA"},
"mark": {"type": "point", "filled": false, "color": "black", "size": 36, "strokeWidth": 1, "opacity": 1},
"encoding": {
"x": {"field": "t", "type": "quantitative", "scale": {"type": "log", "domain": [5, 200], "nice": false},
 "axis": {"orient": "bottom", "values": [10, 100], "labelExpr": "datum.value == 10 ? '10¹' : '10²'", "tickSize": -10, "labelPadding": 21, "title": "t (day)", "titleX": 272, "titleY": 25, "titleBaseline": "alphabetic", "titleAlign": "center"}},
"y": {"field": "A", "type": "quantitative", "scale": {"type": "log", "domain": [0.01, 1], "nice": false},
 "axis": {"orient": "left", "values": [0.01, 0.1, 1], "labelExpr": "datum.value == 0.01 ? '10⁻²' : datum.value == 0.1 ? '10⁻¹' : '10⁰'", "tickSize": -10, "labelPadding": 12, "title": "A (t)", "titleAngle": 0, "titleX": -58, "titleY": 136, "titleAlign": "left", "titleBaseline": "middle"}},
"shape": {"field": "series", "type": "nominal",
 "scale": {"domain": ["Daily data", "Decoupled daily data"], "range": ["triangle-up", "M-1,0L1,0M0,-1L0,1"]},
 "legend": {"orient": "none", "legendX": 203, "legendY": 23, "title": "Shanghai Index (1990-2009)", "rowPadding": 4, "titlePadding": 11, "symbolOffset": -6, "labelOffset": 12}}
}
},
{
"data": {"name": "daxA"},
"mark": {"type": "point", "filled": false, "color": "black", "size": 36, "strokeWidth": 1, "opacity": 1},
"encoding": {
"x": {"field": "t", "type": "quantitative", "scale": {"type": "log", "domain": [5, 200], "nice": false},
 "axis": {"orient": "bottom", "values": [6,7,8,9,20,30,40,50,60,70,80,90], "labels": false, "tickSize": -5, "title": null}},
"y": {"field": "A", "type": "quantitative", "scale": {"type": "log", "domain": [0.01, 1], "nice": false},
 "axis": {"orient": "left", "values": [0.02,0.03,0.04,0.05,0.06,0.07,0.08,0.09,0.2,0.3,0.4,0.5,0.6,0.7,0.8,0.9], "labels": false, "tickSize": -5, "title": null}},
"shape": {"field": "series", "type": "nominal",
 "scale": {"domain": ["Daily data", "Decoupled daily data"], "range": ["circle", "M-0.7,-0.7L0.7,0.7M-0.7,0.7L0.7,-0.7"]},
 "legend": {"orient": "none", "legendX": 35, "legendY": 273, "title": "German DAX (1959-2009)", "rowPadding": 4, "titlePadding": 12, "symbolOffset": -6, "labelOffset": 13}}
}
},
{
"data": {"name": "fitA"},
"mark": {"type": "line", "color": "black", "strokeWidth": 1.2, "strokeDash": [6, 4]},
"encoding": {
"x": {"field": "t", "type": "quantitative", "scale": {"type": "log", "domain": [5, 200], "nice": false},
 "axis": {"orient": "top", "values": [10, 100], "labels": false, "tickSize": -10, "title": null}},
"y": {"field": "A", "type": "quantitative", "scale": {"type": "log", "domain": [0.01, 1], "nice": false},
 "axis": {"orient": "right", "values": [0.01, 0.1, 1], "labels": false, "tickSize": -10, "title": null}},
"detail": {"field": "fit", "type": "nominal"}
}
},
{
"data": {"values": [{}]},
"mark": {"type": "text", "text": "slope= -0.32(3)", "align": "left", "baseline": "middle", "font": "Liberation Serif", "fontSize": 17, "color": "black"},
"encoding": {
"x": {"datum": 80.9, "type": "quantitative", "scale": {"type": "log", "domain": [5, 200], "nice": false},
 "axis": {"orient": "top", "values": [6,7,8,9,20,30,40,50,60,70,80,90], "labels": false, "tickSize": -5, "title": null}},
"y": {"datum": 0.475, "type": "quantitative", "scale": {"type": "log", "domain": [0.01, 1], "nice": false},
 "axis": {"orient": "right", "values": [0.02,0.03,0.04,0.05,0.06,0.07,0.08,0.09,0.2,0.3,0.4,0.5,0.6,0.7,0.8,0.9], "labels": false, "tickSize": -5, "title": null}}
}
},
{
"data": {"values": [{}]},
"mark": {"type": "text", "text": "slope= -0.30(3)", "align": "left", "baseline": "middle", "font": "Liberation Serif", "fontSize": 17, "color": "black"},
"encoding": {
"x": {"datum": 80.9, "type": "quantitative", "scale": {"type": "log", "domain": [5, 200], "nice": false}, "axis": null},
"y": {"datum": 0.362, "type": "quantitative", "scale": {"type": "log", "domain": [0.01, 1], "nice": false}, "axis": null}
}
},
{
"data": {"values": [{}]},
"mark": {"type": "text", "text": "slope= -0.32(2)", "align": "left", "baseline": "middle", "font": "Liberation Serif", "fontSize": 17, "color": "black"},
"encoding": {
"x": {"datum": 25.2, "type": "quantitative", "scale": {"type": "log", "domain": [5, 200], "nice": false}, "axis": null},
"y": {"datum": 0.0205, "type": "quantitative", "scale": {"type": "log", "domain": [0.01, 1], "nice": false}, "axis": null}
}
},
{
"data": {"values": [{}]},
"mark": {"type": "text", "text": "slope= -0.29(2)", "align": "left", "baseline": "middle", "font": "Liberation Serif", "fontSize": 17, "color": "black"},
"encoding": {
"x": {"datum": 25.2, "type": "quantitative", "scale": {"type": "log", "domain": [5, 200], "nice": false}, "axis": null},
"y": {"datum": 0.0153, "type": "quantitative", "scale": {"type": "log", "domain": [0.01, 1], "nice": false}, "axis": null}
}
}
],
"resolve": {"axis": {"x": "independent", "y": "independent"}, "scale": {"shape": "independent"}}
}
],
"config": {
"font": "Liberation Serif",
"view": {"stroke": "black", "strokeWidth": 2},
"axis": {"domain": false, "grid": false, "tickColor": "black", "tickWidth": 1.3, "labelColor": "black", "labelFont": "Liberation Serif", "labelFontSize": 14, "labelFontWeight": "bold", "titleFont": "Liberation Serif", "titleFontSize": 18, "titleFontWeight": "normal", "titleColor": "black", "labelFlush": false, "labelOverlap": false, "labelBound": false},
"legend": {"labelFont": "Liberation Serif", "labelFontSize": 17, "labelColor": "black", "titleFont": "Liberation Serif", "titleFontSize": 17, "titleFontWeight": "normal", "titleColor": "black", "padding": 0, "rowPadding": 2, "labelOffset": 10, "symbolOffset": -5, "symbolSize": 36, "symbolStrokeWidth": 1, "symbolStrokeColor": "black", "symbolFillColor": "transparent", "titlePadding": 7, "titleLimit": 400, "labelLimit": 400}
}
}
